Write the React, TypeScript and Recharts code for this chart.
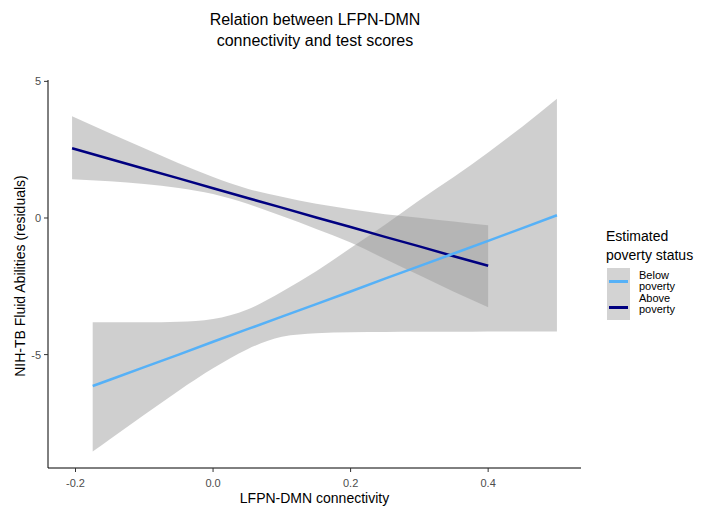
import { ComposedChart, Area, Line, XAxis, YAxis } from 'recharts';

const aboveX = [-0.205, -0.15, -0.1, -0.05, 0, 0.05, 0.1, 0.15, 0.2, 0.25, 0.3, 0.35, 0.4];
const aboveFit = [2.55, 2.16, 1.8, 1.45, 1.09, 0.73, 0.38, 0.02, -0.33, -0.69, -1.04, -1.4, -1.75];
const aboveLow = [1.42, 1.34, 1.24, 1.1, 0.88, 0.52, 0.07, -0.4, -0.9, -1.5, -2.1, -2.7, -3.27];
const aboveHigh = [3.72, 3.1, 2.55, 2.0, 1.5, 1.07, 0.78, 0.52, 0.32, 0.14, 0.01, -0.13, -0.27];

const belowX = [-0.175, -0.15, -0.1, -0.05, 0, 0.05, 0.1, 0.15, 0.2, 0.25, 0.3, 0.35, 0.4, 0.45, 0.5];
const belowFit = [-6.15, -5.92, -5.46, -5.0, -4.53, -4.07, -3.61, -3.15, -2.69, -2.22, -1.76, -1.3, -0.84, -0.37, 0.1];
const belowLow = [-8.55, -8.1, -7.2, -6.32, -5.5, -4.8, -4.35, -4.22, -4.18, -4.17, -4.16, -4.16, -4.15, -4.15, -4.15];
const belowHigh = [-3.82, -3.82, -3.82, -3.8, -3.7, -3.35, -2.7, -1.95, -1.1, -0.25, 0.65, 1.5, 2.4, 3.35, 4.36];

const xTicks = [-0.2, 0, 0.2, 0.4];
const yTicks = [-5, 0, 5];

const FONT = '"Liberation Sans", Arial, Helvetica, sans-serif';
const BAND = '#999999';
const ABOVE = '#000080';
const BELOW = '#56B1F7';

const aboveData = aboveX.map((x, i) => ({ x, fit: aboveFit[i], band: [aboveLow[i], aboveHigh[i]] }));
const belowData = belowX.map((x, i) => ({ x, fit: belowFit[i], band: [belowLow[i], belowHigh[i]] }));

const tickStyle = { fill: '#4d4d4d', fontSize: 11, fontFamily: FONT };

export default function App() {
  return (
    <div style={{ position: 'absolute', left: 0, top: 0, width: 705, height: 506, background: '#fff', fontFamily: FONT }}>
      <div style={{ position: 'absolute', left: 0, width: 630, top: 9, textAlign: 'center', fontSize: 16, lineHeight: '21px', color: '#000' }}>
        Relation between LFPN-DMN
        <br />
        connectivity and test scores
      </div>

      <ComposedChart width={705} height={506} margin={{ top: 80, right: 124, bottom: 8, left: 18 }}>
        <XAxis
          type="number"
          dataKey="x"
          domain={[-0.24, 0.535]}
          allowDataOverflow
          ticks={xTicks}
          tickFormatter={(v: number) => v.toFixed(1)}
          height={30}
          tick={tickStyle}
          tickSize={4}
          tickMargin={7}
          axisLine={{ stroke: '#000', strokeWidth: 1 }}
          tickLine={{ stroke: '#333' }}
        />
        <YAxis
          type="number"
          domain={[-9.15, 5.05]}
          allowDataOverflow
          ticks={yTicks}
          width={30}
          tick={tickStyle}
          tickSize={4}
          tickMargin={3}
          axisLine={{ stroke: '#000', strokeWidth: 1 }}
          tickLine={{ stroke: '#333' }}
        />
        <Area
          data={aboveData}
          dataKey="band"
          type="monotone"
          stroke="none"
          fill={BAND}
          fillOpacity={0.47}
          isAnimationActive={false}
          activeDot={false}
        />
        <Line
          data={aboveData}
          dataKey="fit"
          type="linear"
          stroke={ABOVE}
          strokeWidth={2.5}
          dot={false}
          activeDot={false}
          isAnimationActive={false}
        />
        <Area
          data={belowData}
          dataKey="band"
          type="monotone"
          stroke="none"
          fill={BAND}
          fillOpacity={0.47}
          isAnimationActive={false}
          activeDot={false}
        />
        <Line
          data={belowData}
          dataKey="fit"
          type="linear"
          stroke={BELOW}
          strokeWidth={2.5}
          dot={false}
          activeDot={false}
          isAnimationActive={false}
        />
      </ComposedChart>

      <div style={{ position: 'absolute', left: 48, width: 533, top: 490, textAlign: 'center', fontSize: 14, color: '#000' }}>
        LFPN-DMN connectivity
      </div>
      <div
        style={{
          position: 'absolute',
          left: 20,
          top: 276,
          transform: 'translate(-50%, -50%) rotate(-90deg)',
          whiteSpace: 'nowrap',
          fontSize: 14,
          color: '#000',
        }}
      >
        NIH-TB Fluid Abilities (residuals)
      </div>

      {/* legend */}
      <div style={{ position: 'absolute', left: 606, top: 227, fontSize: 14, lineHeight: '19px', color: '#000' }}>
        Estimated
        <br />
        poverty status
      </div>
      <div style={{ position: 'absolute', left: 607, top: 268, width: 23, height: 52, background: '#d3d3d3' }}>
        <div style={{ position: 'absolute', left: 2, top: 12, width: 19, height: 3, background: BELOW }} />
        <div style={{ position: 'absolute', left: 2, top: 38, width: 19, height: 3, background: ABOVE }} />
      </div>
      <div style={{ position: 'absolute', left: 639, top: 270, fontSize: 11, lineHeight: '11px', color: '#000' }}>
        Below
        <br />
        poverty
      </div>
      <div style={{ position: 'absolute', left: 639, top: 293, fontSize: 11, lineHeight: '11px', color: '#000' }}>
        Above
        <br />
        poverty
      </div>
    </div>
  );
}
